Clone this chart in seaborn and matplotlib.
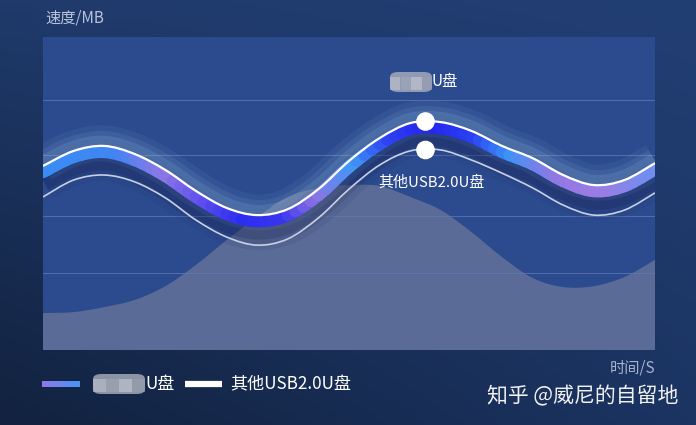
import numpy as np
import pandas as pd
import matplotlib
matplotlib.use('Agg')
import matplotlib.pyplot as plt
import seaborn as sns
from matplotlib.colors import LinearSegmentedColormap, to_rgb
from matplotlib.patches import FancyBboxPatch, Rectangle, PathPatch
from matplotlib.path import Path
from matplotlib.lines import Line2D

# Data
time_s = list(range(21))
brand_speed = [58.8, 63.6, 65.2, 62.6, 57.5, 50.8, 45.4, 43.1, 45.0, 51.4, 60.4,
               67.7, 72.5, 72.8, 70.0, 65.2, 61.3, 55.9, 52.7, 54.3, 59.7]
other_speed = [48.9, 54.3, 55.9, 53.7, 48.6, 41.5, 36.1, 33.5, 35.5, 42.2, 51.4,
               59.1, 63.6, 63.9, 60.7, 56.5, 51.8, 46.3, 43.1, 44.7, 50.2]
bg_area = [11.8, 12.1, 13.7, 16.0, 20.4, 27.2, 35.1, 42.5, 48.9, 51.8, 52.7,
           52.4, 48.9, 44.7, 37.7, 29.7, 23.0, 20.1, 20.4, 23.3, 28.8]
grid_levels = [24.6, 42.8, 62.3, 79.9]
marker_time = 12.5
marker_speed = [73.0, 63.9]
brand_label = 'U盘'
other_label = '其他USB2.0U盘'
y_label = '速度/MB'
x_label = '时间/S'
watermark = '知乎 @威尼的自留地'

df = pd.DataFrame({'time': time_s, 'brand': brand_speed,
                   'other': other_speed, 'area': bg_area})

sns.set_theme(style='white')
plt.rcParams['font.family'] = ['Noto Sans CJK SC', 'DejaVu Sans']

W, H = 696, 425
fig = plt.figure(figsize=(W / 100, H / 100), dpi=100)


def px(x, y):
    return x / W, 1 - y / H


# smooth (catmull-rom style) bezier pieces through the read points
def bezier_pieces(x, y, offset=0.0):
    P = np.column_stack([np.asarray(x, float), np.asarray(y, float) + offset])
    E = np.vstack([P[0], P, P[-1]])
    out = []
    for i in range(len(P) - 1):
        p0, p1, p2, p3 = E[i], E[i + 1], E[i + 2], E[i + 3]
        out.append((p1, p1 + (p2 - p0) / 6, p2 - (p3 - p1) / 6, p2))
    return out


def smooth_path(x, y, offset=0.0, close_to=None):
    pcs = bezier_pieces(x, y, offset)
    verts = [pcs[0][0]]
    codes = [Path.MOVETO]
    for p in pcs:
        verts += [p[1], p[2], p[3]]
        codes += [Path.CURVE4] * 3
    if close_to is not None:
        verts += [(x[-1], close_to), (x[0], close_to), (x[0], close_to)]
        codes += [Path.LINETO, Path.LINETO, Path.CLOSEPOLY]
    return Path(verts, codes)


def split(p, t=0.5):
    a, b, c, d = p
    ab, bc, cd = a + (b - a) * t, b + (c - b) * t, c + (d - c) * t
    abc, bcd = ab + (bc - ab) * t, bc + (cd - bc) * t
    m = abc + (bcd - abc) * t
    return (a, ab, abc, m), (m, bcd, cd, d)


# figure background gradient
bg = fig.add_axes([0, 0, 1, 1], zorder=-10)
gx = np.linspace(0, 1, 200)[None, :, None]
gy = np.linspace(0, 1, 120)[:, None, None]
tl, tr = np.array(to_rgb('#1f3a6b')), np.array(to_rgb('#223f74'))
bl, br = np.array(to_rgb('#12223f')), np.array(to_rgb('#1b3462'))
grad = (1 - gy) * ((1 - gx) * tl + gx * tr) + gy * ((1 - gx) * bl + gx * br)
bg.imshow(grad, aspect='auto', extent=[0, 1, 0, 1])
bg.axis('off')

l, b = px(43, 350)
r, t = px(655, 37)
ax = fig.add_axes([l, b, r - l, t - b])
ax.set_facecolor('#2c4b8f')
for s in ax.spines.values():
    s.set_visible(False)

# background area
ax.add_patch(PathPatch(smooth_path(time_s, bg_area, close_to=0), fc='#5a6b97',
                       ec='none', zorder=1))

for g in grid_levels:
    ax.axhline(g, color='#5d79b4', lw=0.8, alpha=0.75, zorder=2)

# glowing brand line
cmap = LinearSegmentedColormap.from_list('glow', [
    (0.00, '#3b8cf5'), (0.12, '#3f86f3'), (0.20, '#8c78e6'), (0.27, '#5a4cee'),
    (0.33, '#2b2df0'), (0.40, '#3a36ee'), (0.45, '#8d74e3'), (0.51, '#3f98f6'),
    (0.57, '#2d40f2'), (0.64, '#2424ee'), (0.71, '#2a40f2'), (0.77, '#3d94f6'),
    (0.84, '#8f78e4'), (0.92, '#9c7ce4'), (1.00, '#6f8ef0')])

# dark shadow under the band
for lw, a in [(30, 0.08), (22, 0.12), (15, 0.2)]:
    ax.add_patch(PathPatch(smooth_path(time_s, brand_speed, -4.5), fill=False,
                           ec='#121a48', lw=lw, alpha=a, capstyle='butt', zorder=3))
# light halo above
for lw, a in [(26, 0.06), (18, 0.09), (11, 0.13)]:
    ax.add_patch(PathPatch(smooth_path(time_s, brand_speed, 0.8), fill=False,
                           ec='#b0e0ff', lw=lw, alpha=a, capstyle='butt', zorder=3))

for p in bezier_pieces(time_s, brand_speed, -1.9):
    h1, h2 = split(p)
    for q in split(h1) + split(h2):
        col = cmap(float((q[0][0] + q[3][0]) / 2 / 20))
        ax.add_patch(PathPatch(Path(list(q), [Path.MOVETO] + [Path.CURVE4] * 3),
                               fill=False, ec=col, lw=9, capstyle='round', zorder=4))

ax.add_patch(PathPatch(smooth_path(time_s, brand_speed), fill=False, ec='white',
                       lw=1.6, zorder=5))
ax.add_patch(PathPatch(smooth_path(time_s, other_speed), fill=False, ec='#c8d0e6',
                       lw=1.2, zorder=5))
sns.scatterplot(x=[marker_time, marker_time], y=marker_speed, s=180, color='white',
                edgecolor='none', ax=ax, zorder=6)
ax.set_xlabel('')
ax.set_ylabel('')
ax.set_xlim(0, 20)
ax.set_ylim(0, 100)
ax.set_xticks([])
ax.set_yticks([])

ax.annotate(brand_label, (marker_time, marker_speed[0]), xytext=(4.5, 28.5),
            textcoords='offset points', ha='left', va='center', fontsize=11,
            color='white', zorder=7)
ax.annotate(other_label, (marker_time, marker_speed[1]), xytext=(4.5, -23.5),
            textcoords='offset points', ha='center', va='center', fontsize=10.8,
            color='white', zorder=7)


def mosaic(x0, y0, w, h):
    fx, fy = px(x0, y0 + h)
    fw, fh = w / W, h / H
    fig.add_artist(FancyBboxPatch((fx, fy), fw, fh, boxstyle='round,pad=0,rounding_size=0.012',
                                  transform=fig.transFigure, fc='#aab0bd', ec='none',
                                  alpha=0.8, zorder=8))
    shades = ['#c0c4cd', '#a2a9b8', '#c8cbd3', '#98a0b0']
    n = 4
    for i in range(n):
        bx, by = px(x0 + i * w / n, y0 + h * 0.9)
        fig.add_artist(Rectangle((bx, by), fw / n, fh * 0.65, transform=fig.transFigure,
                                 fc=shades[i], ec='none', alpha=0.6, zorder=9))


mosaic(390, 72, 42, 20)

# axis titles and watermark
fig.text(*px(45, 18), y_label, fontsize=11, color='#b9c3da', va='center', ha='left')
fig.text(*px(655, 368), x_label, fontsize=11, color='#a9b3cb', va='center', ha='right')
fig.text(*px(487, 396), watermark, fontsize=15, color='#f2f2f2', va='center', ha='left')

# legend
lax = fig.add_axes([42 / W, 1 - 387 / H, 38 / W, 6 / H])
lax.imshow(LinearSegmentedColormap.from_list('lg', ['#8f78e8', '#4a92f8'])(
    np.linspace(0, 1, 64))[None, :, :], aspect='auto')
lax.axis('off')
mosaic(93, 374, 52, 20)
fig.text(*px(145, 384), brand_label, fontsize=12.3, color='white', va='center', ha='left')
fig.add_artist(Line2D([185 / W, 222 / W], [1 - 384 / H] * 2, transform=fig.transFigure,
                      color='white', lw=4.5, solid_capstyle='butt'))
fig.text(*px(230, 384), other_label, fontsize=12.3, color='white', va='center', ha='left')

fig.savefig('out.png', dpi=100)
